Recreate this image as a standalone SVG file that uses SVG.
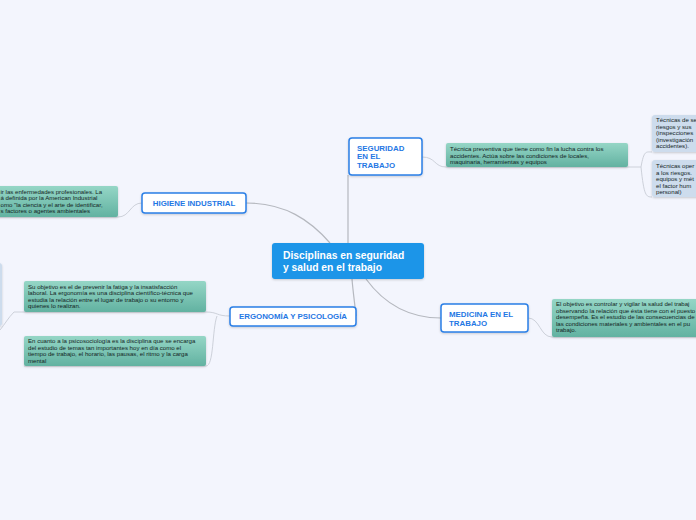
<svg xmlns="http://www.w3.org/2000/svg" width="696" height="520" viewBox="0 0 696 520">
<defs>
<linearGradient id="teal" x1="0" y1="0" x2="0" y2="1">
<stop offset="0" stop-color="#95d6c6"/>
<stop offset="1" stop-color="#62b2a1"/>
</linearGradient>
<filter id="sh" x="-10%" y="-20%" width="120%" height="150%">
<feDropShadow dx="0" dy="1" stdDeviation="0.8" flood-color="#000" flood-opacity="0.18"/>
</filter>
</defs>
<style>
.bg{fill:#f3f5fd}
.conn{fill:none;stroke:#b5b8bf;stroke-width:1.2}
.sub{fill:none;stroke:#cdd1da;stroke-width:1}
.topic{fill:#fff;stroke:#2a7fe6;stroke-width:1.5;filter:url(#sh)}
.tt{font-family:"Liberation Sans",Arial,sans-serif;font-weight:bold;font-size:7.9px;fill:#1f78e4}
.note{fill:url(#teal);filter:url(#sh)}
.nt{font-family:"Liberation Sans",Arial,sans-serif;font-size:6.1px;fill:#141f1e}
.blue{fill:#cddced;filter:url(#sh)}
.ct{font-family:"Liberation Sans",Arial,sans-serif;font-weight:bold;font-size:10.3px;fill:#fff}
</style>
<rect class="bg" x="0" y="0" width="696" height="520"/>

<g id="connectors">
<path class="conn" d="M246,203 C285,203 310,220 330,243"/>
<path class="conn" d="M348,243 L348,175"/>
<path class="conn" d="M352,279 C353,292 355,305 356,316"/>
<path class="conn" d="M366,279 C385,305 410,318 441,318"/>
<path class="sub" d="M422,157 C436,157 434,167 446,167 L628,167 L641,167"/>
<path class="sub" d="M641,167 C644,150 646,152 652,152"/>
<path class="sub" d="M641,167 C644,196 646,197 652,197"/>
<path class="sub" d="M142,203 C130,203 130,217 118,217 L0,217"/>
<path class="sub" d="M528,318 C540,318 540,337 552,337 L696,337"/>
<path class="sub" d="M230,316 C216,316 218,312 206,312 L24,312 L14,312 C8,318 5,324 0,330"/>
<path class="sub" d="M217,316 C212,330 214,366 206,366 L24,366"/>
</g>

<g id="central">
<rect x="272" y="243" width="152" height="36" rx="3" fill="#1a95e8" filter="url(#sh)"/>
<text class="ct" x="283" y="258.5">Disciplinas en seguridad</text>
<text class="ct" x="283" y="270.5">y salud en el trabajo</text>
</g>

<g id="seguridad">
<rect class="topic" x="349" y="138" width="73" height="37" rx="3"/>
<text class="tt" x="357" y="150.5">SEGURIDAD</text>
<text class="tt" x="357" y="159">EN EL</text>
<text class="tt" x="357" y="167.5">TRABAJO</text>
</g>

<g id="seguridad-note">
<rect class="note" x="446" y="143" width="182" height="24" rx="2"/>
<text class="nt" x="450" y="151">Técnica preventiva que tiene como fin la lucha contra los</text>
<text class="nt" x="450" y="157.5">accidentes. Actúa sobre las condiciones de locales,</text>
<text class="nt" x="450" y="164">maquinaria, herramientas y equipos</text>
</g>

<g id="tecnicas-analiticas">
<rect class="blue" x="652" y="115" width="60" height="37" rx="3"/>
<text class="nt" x="656" y="122">Técnicas de se</text>
<text class="nt" x="656" y="128.5">riesgos y sus</text>
<text class="nt" x="656" y="135">(inspecciones</text>
<text class="nt" x="656" y="141.5">(investigación</text>
<text class="nt" x="656" y="148">accidentes).</text>
</g>

<g id="tecnicas-operativas">
<rect class="blue" x="652" y="160" width="60" height="37" rx="3"/>
<text class="nt" x="656" y="168">Técnicas oper</text>
<text class="nt" x="656" y="174.5">a los riesgos.</text>
<text class="nt" x="656" y="181">equipos y mét</text>
<text class="nt" x="656" y="187.5">el factor hum</text>
<text class="nt" x="656" y="194">personal)</text>
</g>

<g id="higiene">
<rect class="topic" x="142" y="193" width="104" height="20" rx="3"/>
<text class="tt" x="194" y="205.5" text-anchor="middle">HIGIENE INDUSTRIAL</text>
</g>

<g id="higiene-note">
<rect class="note" x="-20" y="186" width="138" height="31" rx="2"/>
<text class="nt" x="0.5" y="194">ir las enfermedades profesionales. La</text>
<text class="nt" x="0.5" y="200">á definida por la American Industrial</text>
<text class="nt" x="0.5" y="206.5">omo "la ciencia y el arte de identificar,</text>
<text class="nt" x="0.5" y="213">s factores o agentes ambientales</text>
</g>

<g id="ergonomia">
<rect class="topic" x="230" y="307" width="126" height="19" rx="3"/>
<text class="tt" x="293" y="319" text-anchor="middle">ERGONOMÍA Y PSICOLOGÍA</text>
</g>

<g id="ergonomia-note">
<rect class="note" x="24" y="281" width="182" height="31" rx="2"/>
<text class="nt" x="28" y="288.5">Su objetivo es el de prevenir la fatiga y la insatisfacción</text>
<text class="nt" x="28" y="295">laboral. La ergonomía es una disciplina científico-técnica que</text>
<text class="nt" x="28" y="301.5">estudia la relación entre el lugar de trabajo o su entorno y</text>
<text class="nt" x="28" y="308">quienes lo realizan.</text>
</g>

<g id="ergonomia-left">
<rect class="blue" x="-60" y="263" width="62" height="63" rx="3"/>
</g>

<g id="psicosociologia-note">
<rect class="note" x="24" y="336" width="182" height="30" rx="2"/>
<text class="nt" x="28" y="343">En cuanto a la psicosociología es la disciplina que se encarga</text>
<text class="nt" x="28" y="349.5">del estudio de temas tan importantes hoy en día como el</text>
<text class="nt" x="28" y="356">tiempo de trabajo, el horario, las pausas, el ritmo y la carga</text>
<text class="nt" x="28" y="362.5">mental</text>
</g>

<g id="medicina">
<rect class="topic" x="441" y="304" width="87" height="28" rx="3"/>
<text class="tt" x="449" y="316.5">MEDICINA EN EL</text>
<text class="tt" x="449" y="326">TRABAJO</text>
</g>

<g id="medicina-note">
<rect class="note" x="552" y="299" width="160" height="38" rx="2"/>
<text class="nt" x="556" y="306">El objetivo es controlar y vigilar la salud del trabaj</text>
<text class="nt" x="556" y="312.5">observando la relación que ésta tiene con el puesto</text>
<text class="nt" x="556" y="319">desempeña. Es el estudio de las consecuencias de</text>
<text class="nt" x="556" y="325.5">las condiciones materiales y ambientales en el pu</text>
<text class="nt" x="556" y="332">trabajo.</text>
</g>
</svg>
